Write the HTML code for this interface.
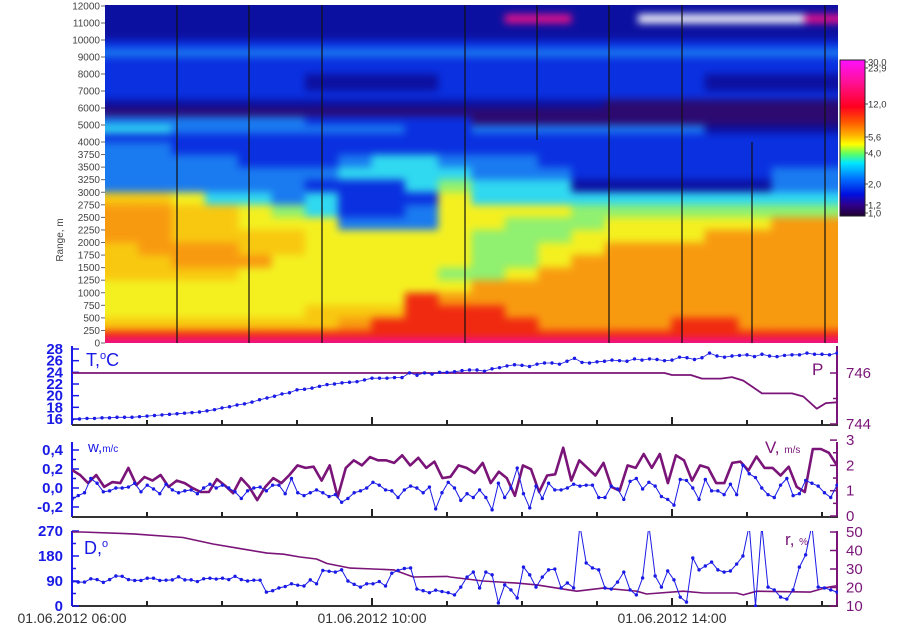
<!DOCTYPE html>
<html><head><meta charset="utf-8">
<style>
html,body{margin:0;padding:0;background:#fff;}
svg{display:block;font-family:"Liberation Sans",sans-serif;}
#hmcells{filter:blur(4px);}
</style></head>
<body>
<svg id="chart" width="900" height="631" viewBox="0 0 900 631" xmlns="http://www.w3.org/2000/svg">
<defs>
  <clipPath id="hmclip"><rect x="105" y="5" width="733" height="338"/></clipPath>
  <clipPath id="p1clip"><rect x="72" y="344" width="766" height="82"/></clipPath>
  <clipPath id="p2clip"><rect x="72" y="438" width="766" height="80"/></clipPath>
  <clipPath id="p3clip"><rect x="72" y="531" width="766" height="76"/></clipPath>
  <linearGradient id="cbgrad" x1="0" y1="0" x2="0" y2="1">
    <stop offset="0" stop-color="#ff10ff"/>
    <stop offset="0.15" stop-color="#ff1090"/>
    <stop offset="0.3" stop-color="#ff0020"/>
    <stop offset="0.4" stop-color="#ff5a00"/>
    <stop offset="0.48" stop-color="#ffb000"/>
    <stop offset="0.54" stop-color="#ffff00"/>
    <stop offset="0.6" stop-color="#60ff60"/>
    <stop offset="0.66" stop-color="#00e8ff"/>
    <stop offset="0.76" stop-color="#0070ff"/>
    <stop offset="0.86" stop-color="#0010e0"/>
    <stop offset="0.93" stop-color="#30008a"/>
    <stop offset="1" stop-color="#200030"/>
  </linearGradient>
</defs>
<g id="heatmap" clip-path="url(#hmclip)"><g id="hmcells"></g></g>
<g id="hmlines"></g>
<g id="hmaxis"></g>
<text x="0" y="0" transform="translate(63,240) rotate(-90)" font-size="10" fill="#444" text-anchor="middle">Range, m</text>
<g>
  <rect x="840" y="60" width="25" height="156" fill="url(#cbgrad)" stroke="#222" stroke-width="1"/>
</g>
<g id="cblabels"></g>
<g id="panels"></g>
</svg>
<script>
// ---------- heatmap data ----------
const rangeEdges = [12000,11500,11000,10000,9500,9000,8000,7000,6500,6000,5500,5000,4500,4000,3750,3500,3250,3000,2750,2500,2250,2000,1750,1500,1250,1000,750,500,250,100,0];
const heatRows = [
"1111111111111111111111",
"111111111111MM11WWWWWM",
"1111111111111111111111",
"2222222222222222222222",
"3333333333333333333333",
"2222222222222222222222",
"2222221111222222221111",
"2222222222222222222222",
"1111111111111110000000",
"0000000000000000000000",
"3333332222200000000000",
"4433333332233333331111",
"2222222222222222222222",
"3322222222222222222222",
"3333222344333222222222",
"3333333444433322222233",
"3333332224544411111133",
"7764434222644444444444",
"8877654223666655555555",
"8877666333665556666688",
"8877776666655566668888",
"7888776666655668888888",
"7788866666655688888888",
"7777666666556888888888",
"6666666666688888888888",
"6666666669888888888888",
"6666667779998888888888",
"7777777899999888899888",
"9999999999999999999999",
"MMMMMMMMMMMMMMMMMMMMMM"
];
const levelColors = {"0":"#2c0a70","1":"#0c10a0","2":"#0a30e0","3":"#1a7af0","4":"#30d8f0","5":"#90f070","6":"#f4f020","7":"#f8c810","8":"#f89a10","9":"#f02a10","M":"#f0108a","W":"#ffffff"};
const rangeTicks = [12000,11000,10000,9000,8000,7000,6000,5000,4000,3750,3500,3250,3000,2750,2500,2250,2000,1750,1500,1250,1000,750,500,250,0];
const gapLines = [[177,5,343],[249,5,343],[322,5,343],[465,5,343],[537,5,140],[609,5,343],[682,5,343],[752,142,343],[825,5,343]];
const cbLabels = ["30,0","23,9","12,0","5,6","4,0","2,0","1,2","1,0"];
const cbPos = [62,68,104,137,153,184,205,213];

// ---------- time series data (hours after 06:00) ----------
const tValues = [15.9,16.0,16.1,16.1,16.2,16.2,16.3,16.3,16.3,16.4,16.5,16.6,16.7,16.8,16.9,17.0,17.1,17.2,17.4,17.6,17.9,18.1,18.4,18.6,18.9,19.3,19.6,19.9,20.3,20.5,21.0,21.1,21.3,21.6,21.9,22.0,22.2,22.3,22.4,22.7,23.0,23.0,23.0,23.1,23.1,23.9,23.5,23.9,23.7,24.0,24.0,24.1,24.3,24.4,24.4,24.2,24.6,24.8,25.1,25.3,25.2,25.0,25.4,25.6,25.6,25.4,25.9,26.4,25.7,25.6,25.8,25.9,26.1,26.0,25.9,26.3,26.1,26.3,26.2,26.0,26.1,26.6,26.5,26.2,26.5,27.3,26.8,26.6,26.8,26.9,27.0,26.7,27.1,26.8,26.7,26.9,27.0,27.0,27.3,27.1,27.1,27.0,27.3];
const pTimes = [0,7.9,8.0,8.25,8.4,8.65,8.8,8.95,9.2,9.6,9.75,9.93,10.05,10.2];
const pValues = [746,746,745.92,745.92,745.78,745.78,745.84,745.7,745.2,745.2,745.08,744.6,744.82,744.85];
const wValues = [-0.12,-0.08,-0.05,0.10,0.05,-0.04,-0.03,0.0,0.0,0.01,0.05,-0.04,0.03,-0.01,-0.06,0.04,-0.02,-0.05,-0.03,-0.02,-0.06,0.0,0.04,0.0,0.03,0.0,-0.04,-0.11,-0.03,0.0,0.01,-0.03,0.03,0.03,-0.06,0.10,-0.05,-0.08,-0.05,-0.02,-0.05,-0.09,-0.07,-0.15,-0.11,-0.05,-0.03,0.0,0.06,0.03,-0.02,-0.03,-0.10,-0.02,0.02,0.0,-0.05,0.01,-0.22,-0.05,0.06,
 0.0,-0.13,-0.06,-0.10,-0.02,-0.10,-0.23,0.05,-0.10,0.0,0.21,-0.06,-0.21,0.02,-0.11,0.05,-0.02,-0.02,0.0,0.04,0.02,0.03,0.03,-0.10,-0.10,0.02,-0.01,-0.12,0.07,0.10,-0.01,0.06,0.02,-0.09,-0.12,-0.18,0.09,0.08,0.0,-0.12,0.09,-0.03,-0.03,-0.07,0.04,-0.07,0.24,0.15,0.11,0.0,-0.07,-0.10,0.03,0.10,-0.08,-0.06,0.08,0.05,0.02,-0.05,-0.10,0.03];
const vValues = [1.82,1.62,1.3,1.62,1.15,1.34,1.3,1.9,1.22,1.54,1.4,1.62,1.15,1.4,1.3,1.1,0.95,0.95,1.46,1.2,0.9,1.5,1.15,0.63,1.15,1.5,1.3,1.62,2.0,1.9,1.95,1.4,2.0,0.75,1.9,2.2,2.0,2.33,2.2,
 2.2,2.1,2.4,2.0,2.3,1.9,2.15,1.5,1.55,2.0,1.9,1.7,2.1,1.3,1.75,1.5,0.8,2.0,1.85,0.95,1.6,1.65,2.7,1.4,2.2,1.9,1.6,2.1,1.15,1.0,2.0,1.9,2.45,1.9,2.45,1.3,2.4,2.2,1.4,2.0,1.9,1.3,1.3,2.1,2.15,1.8,2.35,1.9,1.9,1.6,1.95,1.15,0.95,2.65,2.65,2.5,2.0];
const dValues = [88,86,86,98,95,85,95,108,107,95,92,92,100,100,92,93,94,105,94,94,88,98,100,97,100,95,107,95,90,93,93,50,55,65,70,80,75,72,94,80,128,125,122,130,90,78,68,80,80,88,72,118,128,135,137,61,55,48,57,52,48,
 40,68,104,122,65,122,112,11,76,58,29,140,112,68,104,130,133,65,83,65,290,155,137,130,65,61,86,122,58,40,101,290,108,68,126,94,32,14,173,130,144,158,130,122,126,151,180,290,0,290,68,58,32,25,58,140,184,290,68,65,58,50];
const rTimes = [0,0.13,0.82,1.48,1.88,2.24,2.6,2.82,3.04,3.26,3.4,3.71,4.02,4.29,4.55,5.0,5.04,5.48,5.93,6.2,6.73,7.08,7.53,7.66,8.15,8.42,8.86,8.95,9.13,9.84,10.06,10.2];
const rValues = [50,50,49,47,43.5,41,38.6,38,36.5,35.4,33,30.5,30,29.5,25.7,26,25.7,23.5,22.4,21.4,18,19.7,18,16.5,18,17,17,16,18,17.5,20,21];

// ---------- axis functions ----------
const SPAN = 10.2;
const xT = t => 72 + t * 75;
const yRange = r => r >= 4000 ? 142 - (r - 4000) / 1000 * 17 : 343 - r / 250 * 12.5625;
const yTemp = v => 419 - (v - 16) * 5.833;
const yPres = v => 373 + (746 - v) * 25.5;
const yW = v => 488 - v * 95;
const yV = v => 516 - v * 25.3;
const yD = v => 606 - v * 0.2778;
const yR = v => 532 + (50 - v) * 1.85;
const idxTime = (i, n) => i * SPAN / (n - 1);

const NS = "http://www.w3.org/2000/svg";
function mk(tag, attrs, parent) {
  const e = document.createElementNS(NS, tag);
  for (const k in attrs) e.setAttribute(k, attrs[k]);
  parent.appendChild(e);
  return e;
}

// heatmap cells
const cells = document.getElementById('hmcells');
const nCols = heatRows[0].length;
const colW = 733 / nCols;
heatRows.forEach((row, ri) => {
  let y0 = yRange(rangeEdges[ri]), y1 = yRange(rangeEdges[ri + 1]);
  if (ri === 0) y0 -= 15;
  if (ri === heatRows.length - 1) y1 += 15;
  for (let c = 0; c < nCols; c++) {
    let x0 = 105 + c * colW, w = colW + 0.6;
    if (c === 0) { x0 -= 15; w += 15; }
    if (c === nCols - 1) w += 15;
    const r = mk('rect', {x: x0, y: y0, width: w, height: y1 - y0 + 0.6, fill: levelColors[row[c]]}, cells);
    
    
  }
});
const lines = document.getElementById('hmlines');
gapLines.forEach(g => {
  const l = mk('line', {x1: g[0], x2: g[0], y1: g[1], y2: g[2], stroke: '#111', 'stroke-width': 1.2}, lines);
  
  
});
const hmaxis = document.getElementById('hmaxis');
rangeTicks.forEach(r => {
  const y = yRange(r);
  mk('line', {x1: 101, x2: 105, y1: y, y2: y, stroke: '#666', 'stroke-width': 1}, hmaxis);
  const t = mk('text', {x: 100, y: y + 3.5, 'font-size': 10, fill: '#444', 'text-anchor': 'end'}, hmaxis);
  t.textContent = r;
  
  
});
const cbl = document.getElementById('cblabels');
cbLabels.forEach((s, i) => {
  mk('line', {x1: 865, x2: 868, y1: cbPos[i], y2: cbPos[i], stroke: '#444'}, cbl);
  const t = mk('text', {x: 868, y: cbPos[i] + 3.5, 'font-size': 9.5, fill: '#333'}, cbl);
  t.textContent = s;
  
  
});

// ---------- panels ----------
const panels = document.getElementById('panels');
const BLUE = '#1a1ae6', PURP = '#7a1478';

function axisFrame(g, top, bottom) {
  mk('line', {x1: 72, x2: 72, y1: top, y2: bottom, stroke: BLUE, 'stroke-width': 2}, g);
  mk('line', {x1: 837, x2: 837, y1: top, y2: bottom, stroke: PURP, 'stroke-width': 2}, g);
  mk('line', {x1: 72, x2: 838, y1: bottom, y2: bottom, stroke: '#333', 'stroke-width': 2}, g);
  for (let k = 1; k <= 10; k++) {
    const x = xT(k), len = (k % 4 === 0) ? 8 : 5;
    mk('line', {x1: x, x2: x, y1: bottom, y2: bottom - len, stroke: '#222', 'stroke-width': 2}, g);
  }
}
function leftTicks(g, vals, labels, yf, minor) {
  vals.forEach((v, i) => {
    const y = yf(v);
    mk('line', {x1: 72, x2: 79, y1: y, y2: y, stroke: BLUE, 'stroke-width': 1.5}, g);
    const t = mk('text', {x: 63, y: y + 5, 'font-size': 15, 'font-weight': 'bold', fill: BLUE, 'text-anchor': 'end'}, g);
    t.textContent = labels[i];
    
    
    if (minor && i < vals.length - 1) {
      const ym = (y + yf(vals[i + 1])) / 2;
      mk('line', {x1: 72, x2: 76, y1: ym, y2: ym, stroke: BLUE, 'stroke-width': 1.5}, g);
    }
  });
}
function rightTicks(g, vals, labels, yf, minor) {
  vals.forEach((v, i) => {
    const y = yf(v);
    mk('line', {x1: 830, x2: 837, y1: y, y2: y, stroke: PURP, 'stroke-width': 1.5}, g);
    const t = mk('text', {x: 846, y: y + 5, 'font-size': 15, fill: PURP}, g);
    t.textContent = labels[i];
    
    
    if (minor && i < vals.length - 1) {
      const ym = (y + yf(vals[i + 1])) / 2;
      mk('line', {x1: 833, x2: 837, y1: ym, y2: ym, stroke: PURP, 'stroke-width': 1.5}, g);
    }
  });
}
function line(g, ts, vs, yf, color, width, dots) {
  const pts = vs.map((v, i) => xT(ts[i]).toFixed(1) + ',' + yf(v).toFixed(1)).join(' ');
  mk('polyline', {points: pts, fill: 'none', stroke: color, 'stroke-width': width, 'stroke-linejoin': 'round'}, g);
  if (dots) vs.forEach((v, i) => mk('circle', {cx: xT(ts[i]), cy: yf(v), r: 1.7, fill: color}, g));
}
function label(g, x, y, html, color, size, name) {
  const t = mk('text', {x: x, y: y, 'font-size': size, fill: color}, g);
  t.innerHTML = html;
  
  
}

// Panel 1: T and P
const g1 = mk('g', {}, panels);


axisFrame(g1, 346, 425);
leftTicks(g1, [28,26,24,22,20,18,16], ['28','26','24','22','20','18','16'], yTemp, false);
rightTicks(g1, [746,744], ['746','744'], yPres, true);
const c1 = mk('g', {'clip-path': 'url(#p1clip)'}, g1);
line(c1, pValues.map((_, i) => pTimes[i]), pValues, yPres, PURP, 1.8, false);
line(c1, tValues.map((_, i) => idxTime(i, tValues.length)), tValues, yTemp, BLUE, 0.8, true);
label(g1, 86, 366, 'T,<tspan font-size="11" dy="-7">o</tspan><tspan dy="7">C</tspan>', BLUE, 18, 'temperature-label');
label(g1, 812, 375, 'P', PURP, 17, 'pressure-label');

// Panel 2: w and V
const g2 = mk('g', {}, panels);


axisFrame(g2, 442, 517);
leftTicks(g2, [0.4,0.2,0.0,-0.2], ['0,4','0,2','0,0','-0,2'], yW, true);
rightTicks(g2, [3,2,1,0], ['3','2','1','0'], yV, true);
const c2 = mk('g', {'clip-path': 'url(#p2clip)'}, g2);
line(c2, vValues.map((_, i) => idxTime(i, vValues.length)), vValues, yV, PURP, 2.6, false);
line(c2, wValues.map((_, i) => idxTime(i, wValues.length)), wValues, yW, BLUE, 1, true);
label(g2, 88, 452, 'w,<tspan font-size="10">m/c</tspan>', BLUE, 15, 'vertical-wind-label');
label(g2, 765, 453, 'V, <tspan font-size="10">m/s</tspan>', PURP, 17, 'wind-speed-label');

// Panel 3: D and r
const g3 = mk('g', {}, panels);


axisFrame(g3, 531, 606);
leftTicks(g3, [270,180,90,0], ['270','180','90','0'], yD, true);
rightTicks(g3, [50,40,30,20,10], ['50','40','30','20','10'], yR, false);
const c3 = mk('g', {'clip-path': 'url(#p3clip)'}, g3);
line(c3, rValues.map((_, i) => rTimes[i]), rValues, yR, PURP, 1.6, false);
line(c3, dValues.map((_, i) => idxTime(i, dValues.length)), dValues, yD, BLUE, 1, true);
label(g3, 84, 554, 'D,<tspan font-size="11" dy="-7">o</tspan>', BLUE, 18, 'direction-label');
label(g3, 785, 545, 'r, <tspan font-size="10">%</tspan>', PURP, 17, 'humidity-label');

// x labels
const xLabelTimes = [0,4,8];
const xLabelText = ['01.06.2012 06:00','01.06.2012 10:00','01.06.2012 14:00'];
xLabelTimes.forEach((t, i) => {
  const e = mk('text', {x: xT(t), y: 623, 'font-size': 14, fill: '#333', 'text-anchor': 'middle'}, panels);
  e.textContent = xLabelText[i];
  
  
});
</script>
</body></html>
